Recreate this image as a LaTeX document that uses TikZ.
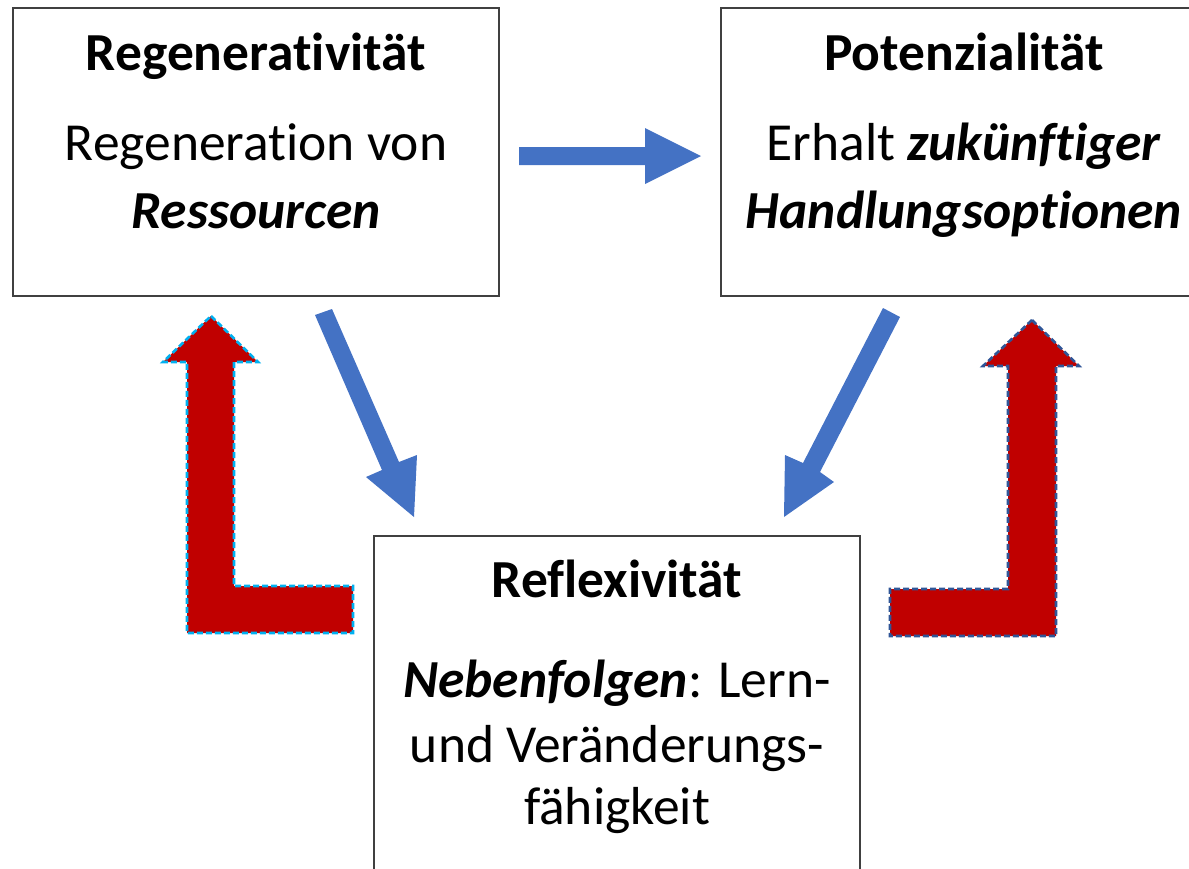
\documentclass[tikz,border=0pt]{standalone}
\usepackage{fontspec}
\setmainfont{Carlito}[Ligatures=NoCommon]
\begin{document}
\begin{tikzpicture}[x=1pt,y=-1pt,
  box/.style={draw=black!75,line width=1.4pt,fill=white},
  txt/.style={anchor=base,inner sep=0pt,font=\fontsize{53.5}{64}\selectfont},
  blue arrow/.style={fill=blueA,draw=none},
  red arrow L/.style={fill=redA,draw=cyanA,line width=2.6pt,dash pattern=on 6pt off 3pt},
  red arrow R/.style={fill=redA,draw=navyA,line width=2.6pt,dash pattern=on 6pt off 3pt}]
\definecolor{blueA}{HTML}{4472C4}
\definecolor{redA}{HTML}{C00000}
\definecolor{cyanA}{HTML}{00B0F0}
\definecolor{navyA}{HTML}{2F5597}
\useasboundingbox (0,0) rectangle (1189,868);
\clip (0,0) rectangle (1189,868);
% boxes
\draw[box] (13,8) rectangle (499,296);
\draw[box] (721,8) rectangle (1207,296);
\draw[box] (374,536) rectangle (860,900);
% texts
\node[txt] (regT) at (256,70) {\textbf{Regenerativität}};
\node[txt] (regA) at (256,160) {Regeneration von};
\node[txt] (regB) at (256,228) {\textbf{\textit{Ressourcen}}};
\node[txt] (potT) at (964,70) {\textbf{Potenzialität}};
\node[txt] (potA) at (964,160) {Erhalt \textbf{\textit{zukünftiger}}};
\node[txt] (potB) at (964,228) {\textbf{\textit{Handlungsoptionen}}};
\node[txt] (refT) at (617,597) {\textbf{Reflexivität}};
\node[txt] (refA) at (617,697) {\textbf{\textit{Nebenfolgen}}: Lern-};
\node[txt] (refB) at (617,762) {und Veränderungs-};
\node[txt] (refC) at (617,824) {fähigkeit};
% blue arrows
\fill[blue arrow] (519,147) -- (645,147) -- (645,128) -- (701,156) -- (645,184) -- (645,165) -- (519,165) -- cycle;
\fill[blue arrow] (315,315) -- (332,309) -- (399,462) -- (417,455) -- (414,517) -- (366,477) -- (382,470) -- cycle;
\fill[blue arrow] (883,308) -- (900,317) -- (820,472) -- (834,482) -- (784,517) -- (785,455) -- (803,463) -- cycle;
% red arrows
\draw[red arrow L] (211,316) -- (258,362) -- (234,362) -- (234,586) -- (353,586) -- (353,633) -- (187,633) -- (187,362) -- (163,362) -- cycle;
\draw[red arrow R] (1032,320) -- (1079,366) -- (1056,366) -- (1056,636) -- (890,636) -- (890,589) -- (1008,589) -- (1008,366) -- (983,366) -- cycle;
\end{tikzpicture}
\end{document}
